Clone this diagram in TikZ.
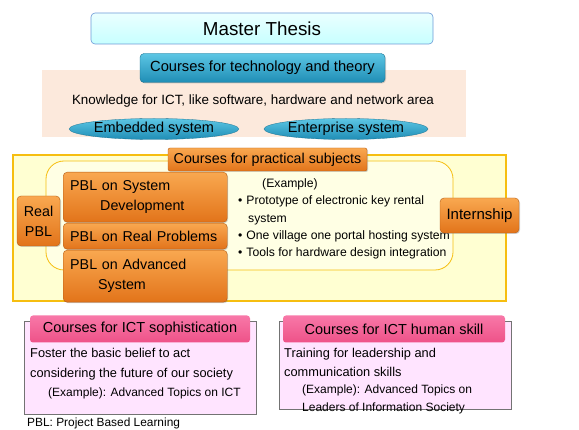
\documentclass[tikz,border=0pt]{standalone}
\usepackage{fontspec}
\setmainfont{Liberation Sans}
\usetikzlibrary{shapes.geometric,shadows}
\definecolor{peach}{HTML}{FCE9DC}
\definecolor{yel}{HTML}{FFFFD2}
\definecolor{yelline}{HTML}{F6BE10}
\definecolor{oratop}{HTML}{F9A850}
\definecolor{orabot}{HTML}{E2741A}
\definecolor{tealtop}{HTML}{5CC6E4}
\definecolor{tealbot}{HTML}{1F8DB5}
\definecolor{pinktop}{HTML}{F878A8}
\definecolor{pinkbot}{HTML}{EE5288}
\definecolor{pinkbody}{HTML}{FFE4FF}
\tikzset{
  orabox/.style={rounded corners=4pt, top color=oratop, bottom color=orabot, draw=orabot!80!black, line width=0.4pt, drop shadow={opacity=0.35,shadow xshift=1pt,shadow yshift=-1pt}, inner sep=0pt, font=\fontsize{14.3}{20}\selectfont},
  tealbox/.style={rounded corners=4pt, top color=tealtop, bottom color=tealbot, draw=tealbot!80!black, line width=0.4pt, drop shadow={opacity=0.35,shadow xshift=1pt,shadow yshift=-1pt}, inner sep=0pt, font=\fontsize{14.7}{17}\selectfont},
  ellbox/.style={ellipse, top color=tealtop, bottom color=tealbot, draw=tealbot!80!black, line width=0.3pt, inner sep=0pt, font=\fontsize{14.5}{17}\selectfont},
  pinkhead/.style={rounded corners=3pt, top color=pinktop, bottom color=pinkbot, draw=none, inner sep=0pt, font=\fontsize{14.5}{17}\selectfont},
  pinkbodybox/.style={fill=pinkbody, draw=black!55, line width=0.6pt, inner sep=0pt},
  txt/.style={inner sep=0pt, align=left},
}
\begin{document}
\begin{tikzpicture}[x=1pt,y=-1pt]
\useasboundingbox (0,0) rectangle (579,430);
% Master thesis
\node[rounded corners=4pt, top color=cyan!8, bottom color=cyan!22, draw=cyan!50!blue!60, line width=0.6pt, minimum width=342pt, minimum height=31pt, inner sep=0pt, font=\fontsize{18.8}{21}\selectfont] (mt) at (262,28.5) {Master Thesis};
% technology area
\fill[peach] (42,70) rectangle (466,137);
\node[tealbox, minimum width=245pt, minimum height=29pt] (tech) at (262.5,68) {Courses for technology and theory};
\node[txt, font=\fontsize{13.4}{15}\selectfont] (know) at (253,101) {Knowledge for ICT, like software, hardware and network area};
\node[ellbox, minimum width=168pt, minimum height=21pt] (emb) at (154,129) {Embedded system};
\node[ellbox, minimum width=158pt, minimum height=21pt] (ent) at (346,129) {Enterprise system};
% practical
\draw[fill=yel, draw=yelline, line width=1.5pt] (13,155) rectangle (506,301);
\draw[draw=yelline, line width=0.8pt, fill=yel!60!white, rounded corners=18pt] (46,161) rectangle (453,270);
\node[orabox, minimum width=199pt, minimum height=23pt, rounded corners=2pt] (prac) at (267.5,159.5) {Courses for practical subjects};
\node[orabox, minimum width=43pt, minimum height=50pt, align=center] (real) at (38.5,221) {Real\\PBL};
\node[orabox, minimum width=164pt, minimum height=50pt, align=left, anchor=north west, text width=150pt] (sys) at (63,172) {PBL on System\\\hspace*{30pt}Development};
\node[orabox, minimum width=164pt, minimum height=26pt, anchor=north west, text width=150pt, align=left] (realp) at (63,223) {PBL on Real Problems};
\node[orabox, minimum width=164pt, minimum height=52pt, anchor=north west, text width=150pt, align=left] (adv) at (63,250) {PBL on Advanced\\\hspace*{28pt}System};
\node[txt, anchor=north west, font=\fontsize{12.2}{17.3}\selectfont] (ex) at (238,178.5) {\hspace*{24pt}(Example)\\\textbullet\hspace{4pt}Prototype of electronic key rental\\\hspace*{10pt}system\\\textbullet\hspace{4pt}One village one portal hosting system\\\textbullet\hspace{4pt}Tools for hardware design integration};
\node[orabox, minimum width=79pt, minimum height=35pt, font=\fontsize{15}{17}\selectfont] (intern) at (479.5,215.5) {Internship};
% ICT sophistication
\node[pinkbodybox, minimum width=232pt, minimum height=93pt, anchor=north west] (lbody) at (24,321) {};
\node[pinkhead, minimum width=220pt, minimum height=27pt] (lhead) at (140,329) {Courses for ICT sophistication};
\node[txt, anchor=north west, font=\fontsize{12.8}{19.5}\selectfont] (ltext) at (30,348.5) {Foster the basic belief to act\\considering the future of our society};
\node[txt, anchor=north west, font=\fontsize{12}{18}\selectfont] (lex) at (48,388) {(Example): Advanced Topics on ICT};
% ICT human skill
\node[pinkbodybox, minimum width=232pt, minimum height=88pt, anchor=north west] (rbody) at (279,321) {};
\node[pinkhead, minimum width=222pt, minimum height=27pt] (rhead) at (394,329) {Courses for ICT human skill};
\node[txt, anchor=north west, font=\fontsize{12.8}{18.3}\selectfont] (rtext) at (284,348.5) {Training for leadership and\\communication skills};
\node[txt, anchor=north west, font=\fontsize{12}{18}\selectfont] (rex) at (302,385) {(Example): Advanced Topics on\\Leaders of Information Society};
% footnote
\node[txt, anchor=west, font=\fontsize{11.9}{14}\selectfont] (foot) at (27,423) {PBL: Project Based Learning};
\end{tikzpicture}
\end{document}
